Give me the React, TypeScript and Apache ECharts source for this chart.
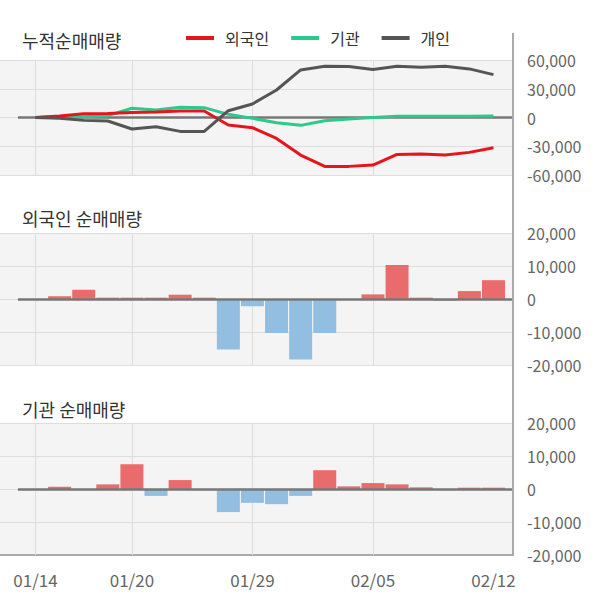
import React, { useEffect, useRef } from 'react';
import * as echarts from 'echarts';

const dates = ['01/14', '01/15', '01/16', '01/17', '01/20', '01/21', '01/22', '01/23', '01/28', '01/29', '01/30', '01/31', '02/03', '02/04', '02/05', '02/06', '02/07', '02/10', '02/11', '02/12'];
const foreignCum = [0, 1500, 4000, 4200, 5200, 5800, 6700, 6800, -7800, -10600, -21800, -39200, -51000, -51000, -49600, -38500, -38200, -39200, -36400, -31500];
const instCum = [0, 700, 800, 1900, 9600, 7800, 10800, 10300, 3300, -900, -5400, -8200, -3300, -1600, 0, 1200, 1300, 1300, 1400, 1500];
const indivCum = [0, -900, -3000, -3700, -12000, -9600, -14500, -14500, 7100, 14100, 28700, 49600, 53500, 53300, 50000, 53500, 52400, 53500, 50700, 44700];
const foreignDaily = [0, 800, 2800, 400, 400, 400, 1300, 400, -15300, -2200, -10300, -18300, -10300, 0, 1400, 10300, 400, -600, 2400, 5700];
const instDaily = [0, 700, 0, 1400, 7500, -2100, 2700, 0, -7000, -4200, -4600, -2100, 5700, 800, 1800, 1400, 500, 0, 400, 400];
const labelIdx = [0, 4, 9, 14, 19];
const gridIdx = [0, 4, 9, 14];
const titles = ['누적순매매량', '외국인 순매매량', '기관 순매매량'];
const seriesNames = ['외국인', '기관', '개인'];

const FONT = 'Noto Sans CJK KR';
const X_MIN = -1.473;
const X_MAX = 19.81;
const ZERO_START = -0.73;

const RED = '#e8141c';
const GREEN = '#2bc98d';
const DARK = '#555555';
const BAR_POS = '#ea6b6b';
const BAR_NEG = '#92bfe1';

const toPts = (arr: number[]) => arr.map((v, i) => [i, v]);
const fmt = (v: number) => v.toLocaleString('en-US');

export default function App() {
  const ref = useRef<HTMLDivElement>(null);
  useEffect(() => {
    if (!ref.current) return;
    const chart = echarts.init(ref.current, undefined, { renderer: 'svg' });

    const grids = [
      { left: 0, right: 87, top: 60, height: 115 },
      { left: 0, right: 87, top: 233, height: 132 },
      { left: 0, right: 87, top: 423, height: 132 },
    ].map((g) => ({ ...g, show: true, backgroundColor: '#f4f4f4', borderWidth: 0 }));

    const xAxes = [0, 1, 2].map((gi) => ({
      type: 'value',
      gridIndex: gi,
      min: X_MIN,
      max: X_MAX,
      axisLine: gi === 2 ? { show: true, onZero: false, lineStyle: { color: '#aaaaaa', width: 2 } } : { show: false },
      axisTick: { show: false },
      splitLine: { show: false },
      axisLabel:
        gi === 2
          ? {
              show: true,
              customValues: labelIdx,
              formatter: (v: number) => dates[Math.round(v)],
              color: '#666666',
              fontSize: 17,
              margin: 16,
              fontFamily: FONT,
            }
          : { show: false },
    }));

    const yRanges = [
      { min: -60000, max: 60000, interval: 30000 },
      { min: -20000, max: 20000, interval: 10000 },
      { min: -20000, max: 20000, interval: 10000 },
    ];
    const yAxes = yRanges.map((r, gi) => ({
      type: 'value',
      gridIndex: gi,
      position: 'right',
      ...r,
      axisLine: { show: false },
      axisTick: { show: false },
      splitLine: { show: true, lineStyle: { color: '#dddddd', width: 1 } },
      axisLabel: { color: '#666666', fontSize: 16, margin: 14, fontFamily: FONT, formatter: fmt },
    }));

    const gridMark = {
      silent: true,
      symbol: 'none',
      z: 1,
      label: { show: false },
      emphasis: { disabled: true },
      lineStyle: { color: '#dddddd', width: 1, type: 'solid' },
      data: gridIdx.map((i) => ({ xAxis: i })),
    };
    const zeroMark = (z: number) => ({
      silent: true,
      symbol: 'none',
      z,
      label: { show: false },
      emphasis: { disabled: true },
      lineStyle: { color: '#777777', width: 2.5, type: 'solid' },
      data: [[{ coord: [ZERO_START, 0] }, { coord: [X_MAX, 0] }]],
    });

    const ghost = (gi: number, data: number[], mark: any, name: string) => ({
      type: 'line',
      name,
      xAxisIndex: gi,
      yAxisIndex: gi,
      data: toPts(data),
      symbol: 'none',
      silent: true,
      lineStyle: { opacity: 0 },
      itemStyle: { opacity: 0 },
      z: 0,
      markLine: mark,
    });

    const lineSeries = (name: string, data: number[], color: string) => ({
      type: 'line',
      name,
      xAxisIndex: 0,
      yAxisIndex: 0,
      data: toPts(data),
      symbol: 'none',
      color,
      lineStyle: { color, width: 3 },
      z: 4,
    });

    const barSeries = (gi: number, name: string, data: number[]) => ({
      type: 'bar',
      name,
      xAxisIndex: gi,
      yAxisIndex: gi,
      data: toPts(data),
      barWidth: 23,
      z: 2,
      itemStyle: { color: (p: any) => (p.value[1] >= 0 ? BAR_POS : BAR_NEG) },
      markLine: zeroMark(3),
    });

    const option: any = {
      animation: false,
      textStyle: { fontFamily: FONT },
      grid: grids,
      xAxis: xAxes,
      yAxis: yAxes,
      legend: {
        data: seriesNames,
        left: 181,
        top: 25,
        icon: 'rect',
        itemWidth: 28,
        itemHeight: 4,
        itemGap: 22,
        selectedMode: false,
        textStyle: { fontSize: 16, color: '#333333', fontFamily: FONT, padding: [0, 0, 0, 6] },
      },
      graphic: [
        ...titles.map((t, k) => ({
          type: 'text',
          x: 22,
          y: [40, 218, 409][k],
          style: { text: t, fontSize: 18, fill: '#333333', fontFamily: FONT, verticalAlign: 'middle' },
        })),
        {
          type: 'line',
          shape: { x1: 513, y1: 33, x2: 513, y2: 556 },
          style: { stroke: '#aaaaaa', lineWidth: 2 },
          z: 10,
        },
      ],
      series: [
        ghost(0, foreignCum, gridMark, 'g0'),
        ghost(0, foreignCum, zeroMark(3), 'z0'),
        lineSeries('기관', instCum, GREEN),
        lineSeries('외국인', foreignCum, RED),
        lineSeries('개인', indivCum, DARK),
        ghost(1, foreignDaily, gridMark, 'g1'),
        barSeries(1, '외국인 일별', foreignDaily),
        ghost(2, instDaily, gridMark, 'g2'),
        barSeries(2, '기관 일별', instDaily),
      ],
    };
    chart.setOption(option);
    return () => chart.dispose();
  }, []);
  return <div ref={ref} style={{ position: 'absolute', left: 0, top: 0, width: 600, height: 604 }} />;
}
